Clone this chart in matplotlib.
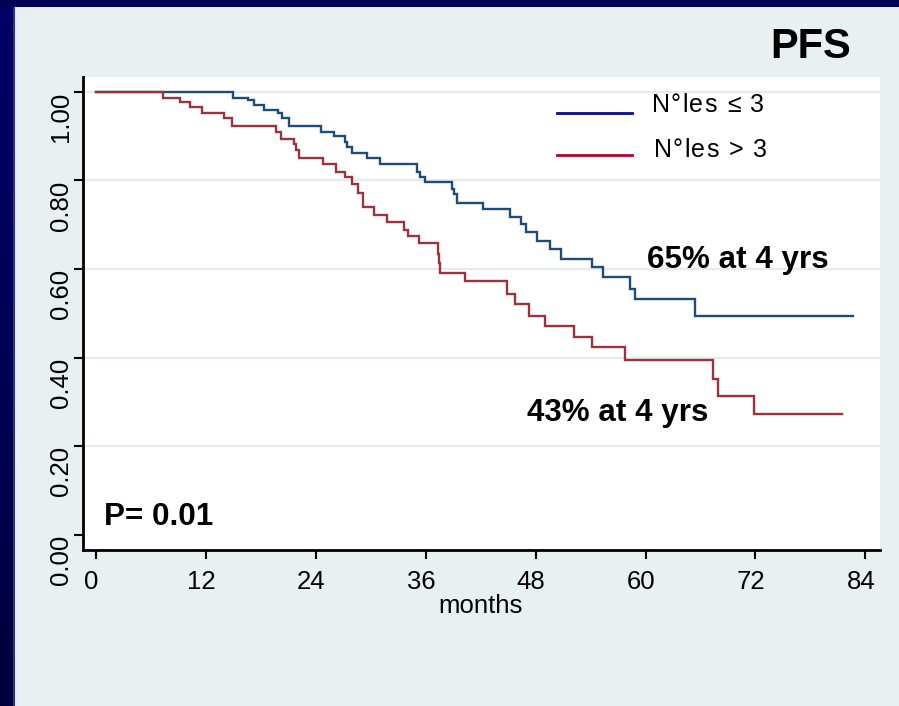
import numpy as np
import matplotlib
matplotlib.use("Agg")
import matplotlib.pyplot as plt
from matplotlib import transforms
from matplotlib.lines import Line2D
from matplotlib.colors import LinearSegmentedColormap

plt.rcParams['font.family'] = ['Liberation Sans', 'DejaVu Sans']

# Kaplan-Meier progression-free survival, step drops (months, survival after drop)
blue_times = [15.0, 16.6, 17.2, 18.3, 19.9, 20.3, 21.1, 24.6, 26.0, 27.2, 27.4, 28.0,
              29.6, 31.0, 35.1, 35.4, 35.9, 38.9, 39.1, 39.4, 42.3, 45.2, 46.4, 47.0,
              48.1, 49.6, 50.8, 54.2, 55.4, 58.3, 58.9, 65.4]
blue_surv = [0.986, 0.981, 0.970, 0.959, 0.952, 0.940, 0.923, 0.910, 0.899, 0.887, 0.876,
             0.861, 0.850, 0.838, 0.820, 0.808, 0.796, 0.780, 0.769, 0.748, 0.735, 0.718,
             0.701, 0.683, 0.664, 0.645, 0.622, 0.604, 0.581, 0.555, 0.532, 0.495]
blue_end = 82.6

red_times = [7.35, 9.2, 10.3, 11.6, 14.0, 14.9, 19.6, 20.2, 21.6, 21.8, 22.2, 24.8,
             26.2, 27.2, 27.9, 28.6, 29.1, 30.4, 31.8, 33.6, 34.1, 35.3, 37.3, 37.5,
             37.6, 40.3, 44.9, 45.8, 47.3, 49.0, 52.2, 54.2, 57.8, 67.4, 67.9, 71.8]
red_surv = [0.986, 0.976, 0.965, 0.951, 0.940, 0.923, 0.910, 0.893, 0.882, 0.868, 0.850,
            0.838, 0.820, 0.808, 0.791, 0.772, 0.741, 0.723, 0.707, 0.688, 0.675, 0.658,
            0.634, 0.613, 0.591, 0.574, 0.544, 0.520, 0.495, 0.471, 0.447, 0.423, 0.394,
            0.352, 0.314, 0.272]
red_end = 81.4

group_labels = ['N°les ≤ 3', 'N°les > 3']
x_ticks = [0, 12, 24, 36, 48, 60, 72, 84]
y_ticks = [0.0, 0.2, 0.4, 0.6, 0.8, 1.0]
y_tick_labels = ['0.00', '0.20', '0.40', '0.60', '0.80', '1.00']
grid_levels = [0.2, 0.4, 0.6, 0.8, 1.0]

W, H = 899, 706
panel = '#E8F0F2'
fig = plt.figure(figsize=(W / 100, H / 100), dpi=100, facecolor=panel)


def fx(px):
    return px / W


def fy(py):
    return 1 - py / H


# navy frame: gradient strip on the left, band across the top
frame_ax = fig.add_axes([0, 0, 15 / W, 1])
grad = np.linspace(0, 1, 256).reshape(-1, 1)
navy = LinearSegmentedColormap.from_list('navy', ['#000066', '#000058', '#00003C'])
frame_ax.imshow(grad, aspect='auto', cmap=navy, extent=[0, 1, 0, 1])
frame_ax.axvline(0.95, color='#3A3A8C', lw=1.2)
frame_ax.set_axis_off()
top_ax = fig.add_axes([0, 1 - 7.3 / H, 1, 7.3 / H])
top_ax.set_facecolor('#000055')
top_ax.set_xticks([]); top_ax.set_yticks([])
for s in top_ax.spines.values():
    s.set_visible(False)

ax = fig.add_axes([fx(83.3), fy(550), fx(880) - fx(83.3), fy(77.3) - fy(550)])
ax.set_facecolor('white')
ax.set_xlim(-1.39, 85.6)
ax.set_ylim(-0.0338, 1.0325)

for g in grid_levels:
    ax.axhline(g, color='#E4ECEF', lw=1.6, zorder=1)


def km_steps(times, surv, end):
    t = np.concatenate([[0.0], times, [end]])
    s = np.concatenate([[1.0], surv, [surv[-1]]])
    return t, s


bt, bs = km_steps(blue_times, blue_surv, blue_end)
rt, rs = km_steps(red_times, red_surv, red_end)
ax.step(bt, bs, where='post', color='#1F4B78', lw=1.7, zorder=3, solid_joinstyle='miter')
ax.step(rt, rs, where='post', color='#9B333F', lw=1.7, zorder=3, solid_joinstyle='miter')

for side in ['top', 'right']:
    ax.spines[side].set_visible(False)
for side in ['left', 'bottom']:
    ax.spines[side].set_linewidth(2.0)
    ax.spines[side].set_color('black')

ax.set_xticks(x_ticks)
ax.set_xticklabels([str(v) for v in x_ticks])
ax.set_yticks(y_ticks)
ax.set_yticklabels(y_tick_labels)
ax.tick_params(axis='both', direction='out', length=6.5, width=1.5, color='black',
               labelsize=18.5, labelcolor='black')
ax.tick_params(axis='x', pad=8)
ax.tick_params(axis='y', pad=1)
plt.setp(ax.get_yticklabels(), rotation=90, va='top')
shift = transforms.ScaledTranslation(-4.5 / 100, 0, fig.dpi_scale_trans)
for lab in ax.get_xticklabels():
    lab.set_transform(lab.get_transform() + shift)

fig.text(fx(481), fy(613), 'months', ha='center', va='baseline', fontsize=18.5)
fig.text(fx(851), fy(58.3), 'PFS', ha='right', va='baseline', fontsize=30,
         fontweight='bold')

ax.text(60.2, 0.602, '65% at 4 yrs', ha='left', va='baseline', fontsize=22.6,
        fontweight='bold', zorder=5)
ax.text(47.1, 0.257, '43% at 4 yrs', ha='left', va='baseline', fontsize=22.6,
        fontweight='bold', zorder=5)
ax.text(0.9, 0.0226, 'P= 0.01', ha='left', va='baseline', fontsize=22.6,
        fontweight='bold', zorder=5)


def spaced_text(x_px, y_px, text, size, tracking_px):
    """Draw text left-to-right with extra letter spacing (in pixels)."""
    renderer = fig.canvas.get_renderer()
    x = x_px
    for ch in text:
        t = fig.text(fx(x), fy(y_px), ch, ha='left', va='baseline', fontsize=size)
        w = t.get_window_extent(renderer).width
        if ch == ' ':
            probe = fig.text(0, 0, 'a a', fontsize=size)
            probe2 = fig.text(0, 0, 'aa', fontsize=size)
            w = (probe.get_window_extent(renderer).width
                 - probe2.get_window_extent(renderer).width)
            probe.remove(); probe2.remove()
        x += w + tracking_px


# legend keys and labels
legend_colors = ['#0A0A96', '#B0052A']
key_rows = [113.3, 155.0]
text_rows = [111.7, 157.0]
text_left = [651.5, 653.5]
for color, ky, ty, tx, lab in zip(legend_colors, key_rows, text_rows, text_left, group_labels):
    fig.add_artist(Line2D([fx(556.7), fx(632.3)], [fy(ky), fy(ky)], color=color, lw=2.0,
                          transform=fig.transFigure))
    spaced_text(tx, ty, lab, 18, 1.4)

fig.savefig('out.png', dpi=100, facecolor=panel)
